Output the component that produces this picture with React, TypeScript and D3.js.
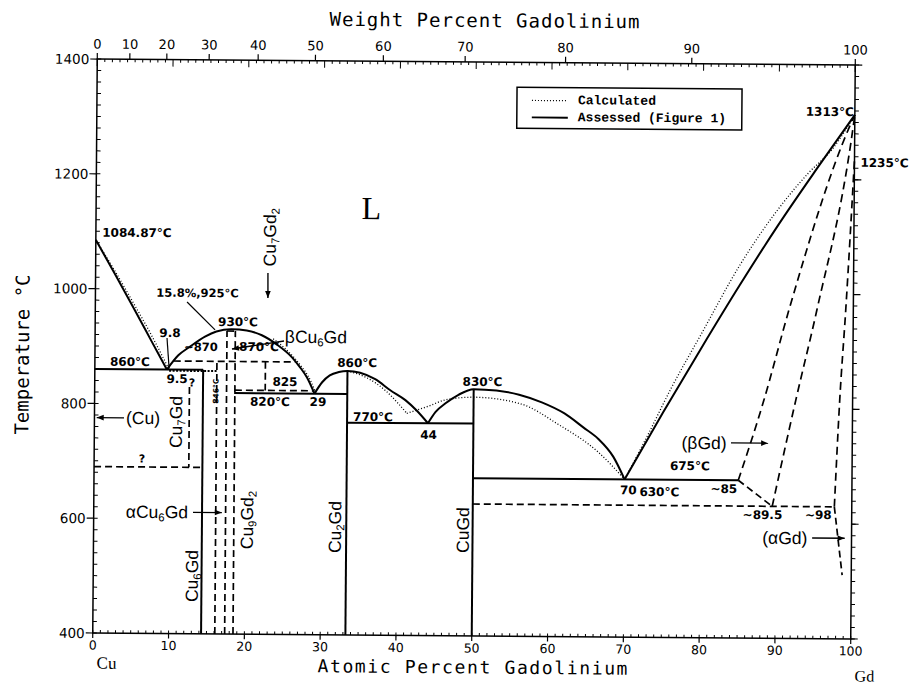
import React from "react";
import * as d3 from "d3";

type P = [number, number];

// axis ticks
const atPercentTicks = d3.range(0, 101, 10);
const weightPercentTicks = [0, 10, 20, 30, 40, 50, 60, 70, 80, 90, 100];
const temperatureTicks = [400, 600, 800, 1000, 1200, 1400];

// assessed boundaries (solid), [at.% Gd, °C]
const cuLiquidus: P[] = [[0, 1084.87], [2.5, 1027], [5, 968], [7.5, 908], [9.5, 860]];
const cu6GdLiquidus: P[] = [[9.5, 860], [11, 885], [12.5, 900], [14.5, 918], [16, 927], [18, 931], [20, 929], [22, 921], [24, 905], [26, 883], [27, 867], [28, 848], [29, 820]];
const cu2GdLiquidus: P[] = [[29, 820], [30, 840], [31, 852], [32.2, 858], [33.33, 860], [35, 857], [37, 846], [39, 827], [41, 810], [42.5, 792], [44, 770]];
const cuGdLiquidus: P[] = [[44, 770], [45, 790], [46.3, 805], [48, 820], [50, 830], [53, 828], [56, 821], [59, 808], [62, 789], [64.5, 765], [66.5, 745], [68.5, 714], [70, 675]];
const gdLiquidus: P[] = [[70, 675], [75, 792], [80, 905], [85, 1015], [90, 1120], [95, 1218], [100, 1313]];

const solidSegments: P[][] = [
  [[0, 860], [14.29, 860]],
  [[14.29, 400], [14.29, 860]],
  [[18.4, 820], [33.33, 820]],
  [[33.33, 400], [33.33, 860]],
  [[33.33, 770], [50, 770]],
  [[50, 400], [50, 830]],
  [[50, 675], [85, 675]],
];

// uncertain boundaries (dashed)
const dashedSegments: P[][] = [
  [[12.5, 830], [12.5, 690]],
  [[0, 690], [14.29, 690]],
  [[16.1, 400], [16.1, 875]],
  [[17.4, 400], [17.4, 928]],
  [[18.5, 400], [18.5, 928]],
  [[17.4, 928], [18.5, 928]],
  [[10.4, 875], [26.5, 875]],
  [[22.5, 875], [22.5, 825]],
  [[18.5, 825], [29, 825]],
  [[85, 675], [89.5, 630]],
  [[50, 630], [97.7, 630]],
  [[97.7, 630], [98.8, 511]],
];
const dashedCurves: P[][] = [
  [[85, 675], [88.3, 815], [91.5, 972], [99.3, 1292], [100, 1313]],
  [[89.5, 630], [92.5, 815], [95.2, 973], [99.5, 1264], [100, 1313]],
  [[97.7, 630], [98.3, 816], [99, 973], [100, 1235]],
];

// calculated boundaries (dotted)
const calculatedCurves: P[][] = [
  [[0, 1084.87], [2.5, 1032], [5, 976], [7.5, 918], [9.8, 860]],
  [[23.5, 915], [25.5, 893], [27.2, 868], [28.5, 842], [29.2, 820]],
  [[33.33, 860], [35.8, 849], [38.4, 826], [40.2, 802], [41.2, 787]],
  [[41.2, 787], [44.1, 800], [46.3, 811], [50, 816], [56, 806], [61.3, 769], [66.5, 722], [70, 675]],
  [[70, 675], [73, 752], [76, 833], [80, 930], [85, 1050], [90, 1148], [94, 1212], [97, 1252], [100, 1313]],
];
const calculatedSegments: P[][] = [[[9.8, 858], [16.1, 858]]];

// annotations: [text, at.%, °C, size]
const valueLabels: [string, number, number, number][] = [
  ["1084.87°C", 5.42, 1097.6, 12],
  ["15.8%,925°C", 13.47, 993.7, 11.5],
  ["9.8", 9.88, 923.7, 12],
  ["930°C", 18.84, 943.7, 12],
  ["~870", 13.98, 899.8, 11.5],
  ["870°C", 21.64, 900.5, 12],
  ["860°C", 4.63, 872.7, 12],
  ["9.5", 10.86, 843.7, 12],
  ["?", 12.84, 837, 11],
  ["825", 25.1, 840, 12],
  ["820°C", 23.14, 805, 12],
  ["29", 29.47, 805.6, 12],
  ["?", 6.32, 703.8, 11],
  ["860°C", 34.6, 874, 12],
  ["770°C", 36.75, 780, 12],
  ["44", 44.09, 749.5, 12],
  ["830°C", 51.16, 842.7, 12],
  ["675°C", 78.6, 699, 12],
  ["630°C", 74.6, 653.3, 12],
  ["70", 70.5, 656, 12],
  ["~85", 83.1, 659.6, 12],
  ["~89.5", 88.23, 614.8, 12],
  ["~98", 95.6, 615.5, 12],
  ["1313°C", 96.7, 1317.8, 12],
  ["1235°C", 103.97, 1229.6, 12],
];
const phaseLabels: [string, number, number][] = [
  ["(Cu)", 6.41, 775.3],
  ["αCu_6Gd", 8.35, 611.7],
  ["βCu_6Gd", 29.14, 918.8],
  ["(βGd)", 80.45, 739.4],
  ["(αGd)", 91.2, 575],
];
const compoundLabels: [string, number, number][] = [
  ["Cu_7Gd", 10.77, 768.8],
  ["Cu_6Gd", 13.03, 500.7],
  ["Cu_9Gd_2", 20.24, 599],
  ["Cu_2Gd", 31.85, 588],
  ["CuGd", 48.73, 584.5],
  ["Cu_7Gd_2", 22.97, 1092],
];
const arrows: P[][] = [
  [[3.9, 775.3], [0.3, 775.3]],
  [[13.1, 611.5], [16.9, 611.5]],
  [[24.93, 911.3], [18.07, 896.7]],
  [[22.74, 1029.6], [22.76, 986]],
  [[84.0, 740], [88.9, 740]],
  [[94.8, 575.4], [99.1, 575.4]],
];
const leaders: P[][] = [
  [[12.1, 977.9], [15.82, 929.8]],
  [[9.49, 915], [9.8, 862]],
];

// weight percent -> atomic percent (Cu 63.546, Gd 157.25)
const wtToAt = (w: number) => {
  const g = w / 157.25;
  const c = (100 - w) / 63.546;
  return (100 * g) / (g + c);
};

const chem = (s: string, size: number) => {
  const parts = s.split(/_(\d)/);
  return parts.map((p, i) =>
    i % 2 === 1 ? (
      <tspan key={i} dy={size * 0.3} fontSize={size * 0.65}>{p}</tspan>
    ) : (
      <tspan key={i} dy={i === 0 ? 0 : -size * 0.3}>{p}</tspan>
    )
  );
};

const App = () => {
  const x = d3.scaleLinear().domain([0, 100]).range([95, 853]);
  const y = d3.scaleLinear().domain([400, 1400]).range([636, 62]);
  const smooth = d3.line<P>().x(d => x(d[0])).y(d => y(d[1])).curve(d3.curveMonotoneX);
  const straight = d3.line<P>().x(d => x(d[0])).y(d => y(d[1]));

  const minorAt = d3.range(0, 101, 1);
  const minorT = d3.range(400, 1401, 20);
  const numFont = "DejaVu Sans";
  const phaseFont = "Liberation Sans";

  return (
    <div style={{ position: "absolute", left: 0, top: 0 }}>
      <svg width={911} height={686} style={{ display: "block", background: "#fff" }}>
        <defs>
          <marker id="ah" viewBox="0 0 10 10" refX="10" refY="5" markerUnits="userSpaceOnUse"
            markerWidth="9" markerHeight="7" orient="auto">
            <path d="M0,1L10,5L0,9z" fill="#000" />
          </marker>
        </defs>
        <g transform="rotate(0.45 474 349)">
          {/* frame */}
          <rect x={x(0)} y={y(1400)} width={x(100) - x(0)} height={y(400) - y(1400)}
            fill="none" stroke="#000" strokeWidth={1.5} />

          {/* bottom axis */}
          {minorAt.map(a => (
            <line key={"bm" + a} x1={x(a)} x2={x(a)} y1={y(400)} y2={y(400) - 3} stroke="#000" strokeWidth={1} />
          ))}
          {atPercentTicks.map(a => (
            <g key={"bt" + a}>
              <line x1={x(a)} x2={x(a)} y1={y(400)} y2={y(400) + 5} stroke="#000" strokeWidth={1.2} />
              <text x={x(a)} y={y(400) + 12} textAnchor="middle" dominantBaseline="central"
                fontFamily={numFont} fontSize={12.5}>{a}</text>
            </g>
          ))}

          {/* top axis: at.% ticks inside, wt.% ticks outside */}
          {minorAt.map(a => (
            <line key={"tm" + a} x1={x(a)} x2={x(a)} y1={y(1400)} y2={y(1400) + (a % 10 === 0 ? 7 : 3)}
              stroke="#000" strokeWidth={1} />
          ))}
          {weightPercentTicks.map(w => (
            <g key={"wt" + w}>
              <line x1={x(wtToAt(w))} x2={x(wtToAt(w))} y1={y(1400)} y2={y(1400) - 6} stroke="#000" strokeWidth={1.2} />
              <text x={x(wtToAt(w))} y={y(1400) - 15} textAnchor="middle" dominantBaseline="central"
                fontFamily={numFont} fontSize={13}>{w}</text>
            </g>
          ))}

          {/* left / right axes */}
          {minorT.map(t => (
            <g key={"lm" + t}>
              <line x1={x(0)} x2={x(0) + 4} y1={y(t)} y2={y(t)} stroke="#000" strokeWidth={1} />
              <line x1={x(100)} x2={x(100) + 4} y1={y(t)} y2={y(t)} stroke="#000" strokeWidth={1} />
            </g>
          ))}
          {temperatureTicks.map(t => (
            <g key={"lt" + t}>
              <line x1={x(0) - 7} x2={x(0)} y1={y(t)} y2={y(t)} stroke="#000" strokeWidth={1.2} />
              <line x1={x(100)} x2={x(100) + 7} y1={y(t)} y2={y(t)} stroke="#000" strokeWidth={1.2} />
              <text x={x(0) - 8} y={y(t)} textAnchor="end" dominantBaseline="central"
                fontFamily={numFont} fontSize={13.5}>{t}</text>
            </g>
          ))}

          {/* axis titles */}
          <text x={482} y={20} textAnchor="middle" dominantBaseline="central" fontFamily="DejaVu Sans Mono"
            fontSize={19} textLength={310} lengthAdjust="spacing">Weight Percent Gadolinium</text>
          <text x={475} y={667} textAnchor="middle" dominantBaseline="central" fontFamily="DejaVu Sans Mono"
            fontSize={18} textLength={310} lengthAdjust="spacing">Atomic Percent Gadolinium</text>
          <text transform="translate(22,358) rotate(-90)" textAnchor="middle" dominantBaseline="central"
            fontFamily="DejaVu Sans Mono" fontSize={19}>Temperature °C</text>
          <text x={109} y={666} textAnchor="middle" dominantBaseline="central" fontFamily="Liberation Serif" fontSize={17}>Cu</text>
          <text x={867} y={673} textAnchor="middle" dominantBaseline="central" fontFamily="Liberation Serif" fontSize={16}>Gd</text>

          {/* legend */}
          <rect x={515} y={87} width={225} height={41} fill="#fff" stroke="#000" strokeWidth={1.5} />
          <line x1={530} x2={566} y1={100} y2={100} stroke="#000" strokeWidth={1.2} strokeDasharray="1 2" />
          <line x1={530} x2={566} y1={117} y2={117} stroke="#000" strokeWidth={1.8} />
          <text x={576} y={100} dominantBaseline="central" fontFamily="Liberation Mono" fontWeight="bold" fontSize={13}>Calculated</text>
          <text x={576} y={117} dominantBaseline="central" fontFamily="Liberation Mono" fontWeight="bold" fontSize={13}>Assessed (Figure 1)</text>

          {/* liquid label */}
          <text x={x(36.3)} y={y(1144)} textAnchor="middle" dominantBaseline="central"
            fontFamily="Liberation Serif" fontSize={32}>L</text>

          {/* calculated */}
          {calculatedCurves.map((c, i) => (
            <path key={"cc" + i} d={smooth(c) || ""} fill="none" stroke="#000" strokeWidth={1.3} strokeDasharray="1 2" />
          ))}
          {calculatedSegments.map((c, i) => (
            <path key={"cs" + i} d={straight(c) || ""} fill="none" stroke="#000" strokeWidth={2} strokeDasharray="2 1.5" />
          ))}

          {/* dashed */}
          {dashedSegments.map((c, i) => (
            <path key={"ds" + i} d={straight(c) || ""} fill="none" stroke="#000" strokeWidth={1.7} strokeDasharray="7 4" />
          ))}
          {dashedCurves.map((c, i) => (
            <path key={"dc" + i} d={smooth(c) || ""} fill="none" stroke="#000" strokeWidth={1.7} strokeDasharray="8 5" />
          ))}

          {/* assessed */}
          {[cuLiquidus, cu6GdLiquidus, cu2GdLiquidus, cuGdLiquidus, gdLiquidus].map((c, i) => (
            <path key={"al" + i} d={smooth(c) || ""} fill="none" stroke="#000" strokeWidth={2} />
          ))}
          {solidSegments.map((c, i) => (
            <path key={"ss" + i} d={straight(c) || ""} fill="none" stroke="#000" strokeWidth={2} />
          ))}

          {/* arrows and leaders */}
          {arrows.map((c, i) => (
            <path key={"ar" + i} d={straight(c) || ""} fill="none" stroke="#000" strokeWidth={1.4} markerEnd="url(#ah)" />
          ))}
          {leaders.map((c, i) => (
            <path key={"ld" + i} d={straight(c) || ""} fill="none" stroke="#000" strokeWidth={1.2} />
          ))}

          {/* labels */}
          {valueLabels.map(([t, a, T, s], i) => (
            <text key={"vl" + i} x={x(a)} y={y(T)} textAnchor="middle" dominantBaseline="central"
              fontFamily={numFont} fontWeight="bold" fontSize={s}>{t}</text>
          ))}
          <text transform={`translate(${x(16.0)},${y(823)}) rotate(-90)`} textAnchor="middle" dominantBaseline="central"
            fontFamily={numFont} fontWeight="bold" fontSize={7.5}>846°C</text>
          {phaseLabels.map(([t, a, T], i) => (
            <text key={"pl" + i} x={x(a)} y={y(T)} textAnchor="middle" dominantBaseline="central"
              fontFamily={phaseFont} fontSize={17.5}>{chem(t, 17.5)}</text>
          ))}
          {compoundLabels.map(([t, a, T], i) => (
            <text key={"cl" + i} transform={`translate(${x(a)},${y(T)}) rotate(-90)`} textAnchor="middle"
              dominantBaseline="central" fontFamily={phaseFont} fontSize={17.5}>{chem(t, 17.5)}</text>
          ))}
        </g>
      </svg>
    </div>
  );
};

export default App;
